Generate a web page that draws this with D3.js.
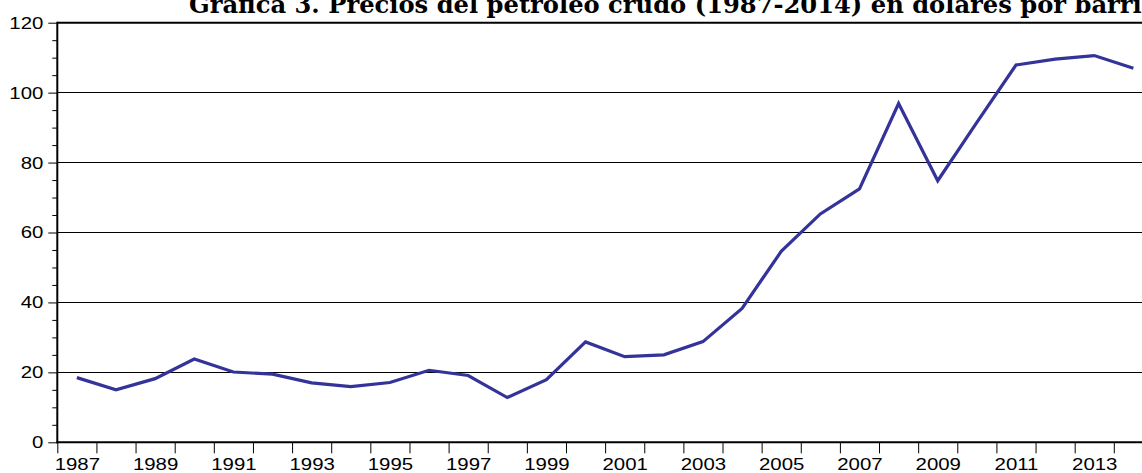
<!DOCTYPE html>
<html>
<head>
<meta charset="utf-8">
<script src="https://cdn.jsdelivr.net/npm/d3@7"></script>
<style>
  html, body { margin: 0; padding: 0; background: #ffffff; overflow: hidden; }
  svg { display: block; }
</style>
</head>
<body>
<svg id="chart" width="1142" height="473"></svg>
<script>
// ---- data ----
const title = "Gráfica 3. Precios del petróleo crudo (1987-2014) en dólares por barril";
const years = [1987, 1988, 1989, 1990, 1991, 1992, 1993, 1994, 1995, 1996, 1997, 1998, 1999, 2000,
               2001, 2002, 2003, 2004, 2005, 2006, 2007, 2008, 2009, 2010, 2011, 2012, 2013, 2014];
const prices = [18.5, 15.0, 18.2, 23.8, 20.1, 19.5, 17.0, 15.9, 17.1, 20.6, 19.1, 12.8, 17.9, 28.7,
                24.5, 25.0, 28.8, 38.3, 54.6, 65.3, 72.5, 96.9, 74.8, 91.5, 107.9, 109.6, 110.6, 107.0];
const xLabelYears = [1987, 1989, 1991, 1993, 1995, 1997, 1999, 2001, 2003, 2005, 2007, 2009, 2011, 2013];
const yTicks = [0, 20, 40, 60, 80, 100, 120];
const yMinorTicks = [5, 10, 15, 25, 30, 35, 45, 50, 55, 65, 70, 75, 85, 90, 95, 105, 110, 115];

// ---- layout ----
const mLeft = 57.3, mTop = 22.7, mBottom = 442.3;
const yearWidth = 39.13;
const mRight = mLeft + 28 * yearWidth;
const stretch = 1.2;

const svg = d3.select("#chart");
const x = d3.scaleLinear().domain([1987, 2015]).range([mLeft, mRight]);
const y = d3.scaleLinear().domain([0, 120]).range([mBottom, mTop]);

// gridlines
svg.append("g")
  .selectAll("line")
  .data(yTicks.filter(v => v > 0 && v < 120))
  .join("line")
  .attr("x1", mLeft).attr("x2", mRight)
  .attr("y1", d => y(d)).attr("y2", d => y(d))
  .attr("stroke", "#000").attr("stroke-width", 1).attr("shape-rendering", "crispEdges");

// top frame
svg.append("line")
  .attr("x1", mLeft).attr("x2", mRight)
  .attr("y1", y(120)).attr("y2", y(120))
  .attr("stroke", "#000").attr("stroke-width", 2);

// y axis major
const yAxisG = svg.append("g").attr("transform", `translate(${mLeft},0)`)
  .call(d3.axisLeft(y).tickValues(yTicks).tickSize(9).tickPadding(4).tickFormat(d3.format("d")));
yAxisG.select(".domain").attr("stroke-width", 2).attr("d", `M0,${mBottom + 1}V${mTop - 1}`);
yAxisG.selectAll(".tick line").attr("stroke", "#000");
yAxisG.selectAll(".tick text")
  .attr("font-family", "'Liberation Sans', Arial, sans-serif")
  .attr("font-size", 17).attr("fill", "#000")
  .attr("x", -14 / stretch)
  .attr("transform", `scale(${stretch},1)`);

// y axis minor
svg.append("g").attr("transform", `translate(${mLeft},0)`)
  .call(d3.axisLeft(y).tickValues(yMinorTicks).tickSize(5).tickFormat(""))
  .call(g => g.select(".domain").remove());

// x axis boundaries
const xAxisG = svg.append("g").attr("transform", `translate(0,${mBottom})`)
  .call(d3.axisBottom(x).tickValues(years.concat([2015])).tickSize(11).tickFormat(""));
xAxisG.select(".domain").attr("stroke-width", 2).attr("d", `M${mLeft - 1},0H${mRight}`);
xAxisG.selectAll(".tick line").attr("stroke", "#000");

// x labels centered on years
const xLabelG = svg.append("g").attr("transform", `translate(0,${mBottom})`)
  .call(d3.axisBottom(x).tickValues(xLabelYears.map(v => v + 0.5)).tickSize(0).tickPadding(16)
        .tickFormat(d => String(Math.floor(d))));
xLabelG.select(".domain").remove();
xLabelG.selectAll(".tick text")
  .attr("font-family", "'Liberation Sans', Arial, sans-serif")
  .attr("font-size", 17).attr("fill", "#000")
  .attr("transform", `scale(${stretch},1)`);

// line
const line = d3.line()
  .x((d, i) => x(years[i] + 0.5))
  .y(d => y(d));
svg.append("path")
  .datum(prices)
  .attr("d", line)
  .attr("fill", "none")
  .attr("stroke", "#333399")
  .attr("stroke-width", 3.2)
  .attr("stroke-linejoin", "miter");

// title
svg.append("text")
  .attr("x", 189).attr("y", 12.5)
  .attr("font-family", "'DejaVu Serif', 'Liberation Serif', serif")
  .attr("font-weight", "bold")
  .attr("font-size", 24)
  .attr("textLength", 962)
  .attr("lengthAdjust", "spacingAndGlyphs")
  .attr("fill", "#000")
  .text(title);
</script>
</body>
</html>
